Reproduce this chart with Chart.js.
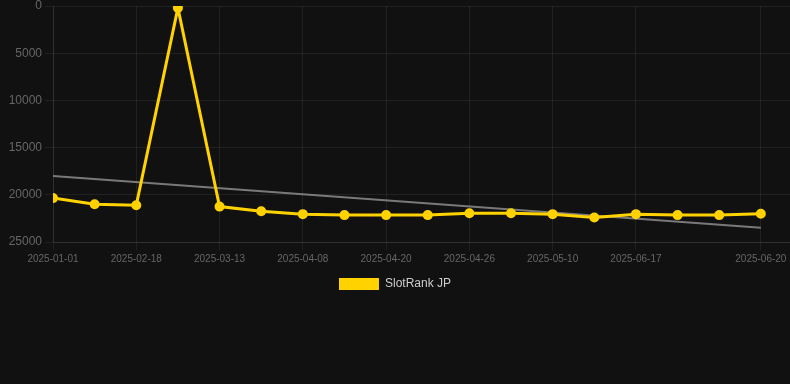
<!DOCTYPE html>
<html>
<head>
<meta charset="utf-8">
<script src="https://cdn.jsdelivr.net/npm/chart.js@4/dist/chart.umd.min.js"></script>
<style>
  html, body { margin: 0; padding: 0; background: #111111; }
  #wrap { width: 790px; height: 300px; position: relative; }
</style>
</head>
<body>
<div id="wrap"><canvas id="c"></canvas></div>
<script>
const categories = ['2025-01-01','2025-01-25','2025-02-18','2025-03-01','2025-03-13','2025-03-26','2025-04-08','2025-04-14','2025-04-20','2025-04-23','2025-04-26','2025-05-03','2025-05-10','2025-05-28','2025-06-17','2025-06-18','2025-06-19','2025-06-20'];
const rankValues = [20350, 21000, 21100, 200, 21250, 21750, 22050, 22150, 22150, 22150, 21950, 21950, 22050, 22400, 22050, 22150, 22150, 22000];
const trendStart = 18000;
const trendEnd = 23500;
const shownTickIndices = [0, 2, 4, 6, 8, 10, 12, 14, 17];
const yTicks = [0, 5000, 10000, 15000, 20000, 25000];

const FONT = "'Liberation Sans', Arial, Helvetica, sans-serif";
const YELLOW = '#FFD200';
const GRID = 'rgba(255,255,255,0.07)';
const TICK = '#666666';

const mainData = rankValues.map((v, i) => ({ x: i, y: v }));
const trendData = [
  { x: 0, y: trendStart },
  { x: categories.length - 1, y: trendEnd }
];

new Chart(document.getElementById('c'), {
  type: 'line',
  data: {
    datasets: [
      {
        label: 'SlotRank JP',
        data: mainData,
        borderColor: YELLOW,
        backgroundColor: YELLOW,
        pointBackgroundColor: YELLOW,
        pointBorderColor: YELLOW,
        borderWidth: 3,
        pointRadius: 4,
        pointBorderWidth: 2,
        tension: 0,
        fill: false
      },
      {
        label: 'Trend',
        data: trendData,
        borderColor: 'rgba(140,140,140,0.85)',
        backgroundColor: 'rgba(140,140,140,0.85)',
        borderWidth: 2,
        pointRadius: 0,
        tension: 0,
        fill: false
      }
    ]
  },
  options: {
    responsive: true,
    maintainAspectRatio: false,
    animation: false,
    layout: { padding: 0, autoPadding: false },
    plugins: {
      tooltip: { enabled: false },
      legend: {
        position: 'bottom',
        labels: {
          color: '#cccccc',
          boxWidth: 40,
          boxHeight: 12,
          font: { family: FONT, size: 12 },
          filter: item => item.datasetIndex === 0,
          generateLabels: chart => {
            const items = Chart.defaults.plugins.legend.labels.generateLabels(chart);
            items.forEach(it => { it.lineWidth = 0; });
            return items;
          }
        }
      }
    },
    scales: {
      x: {
        type: 'linear',
        min: 0,
        max: 17.7,
        afterBuildTicks: axis => {
          axis.ticks = shownTickIndices.map(v => ({ value: v }));
        },
        afterFit: axis => { axis.paddingLeft = 0; axis.paddingRight = 0; },
        ticks: {
          autoSkip: false,
          maxRotation: 0,
          color: TICK,
          font: { family: FONT, size: 10 },
          callback: v => categories[v]
        },
        grid: { color: GRID },
        border: { color: GRID }
      },
      y: {
        reverse: true,
        min: 0,
        max: 25000,
        afterBuildTicks: axis => {
          axis.ticks = yTicks.map(v => ({ value: v }));
        },
        afterFit: axis => { axis.width = 53; axis.paddingTop = 6; },
        ticks: {
          color: TICK,
          font: { family: FONT, size: 12 },
          callback: v => String(v)
        },
        grid: { color: GRID },
        border: { color: GRID }
      }
    }
  }
});
</script>
</body>
</html>
